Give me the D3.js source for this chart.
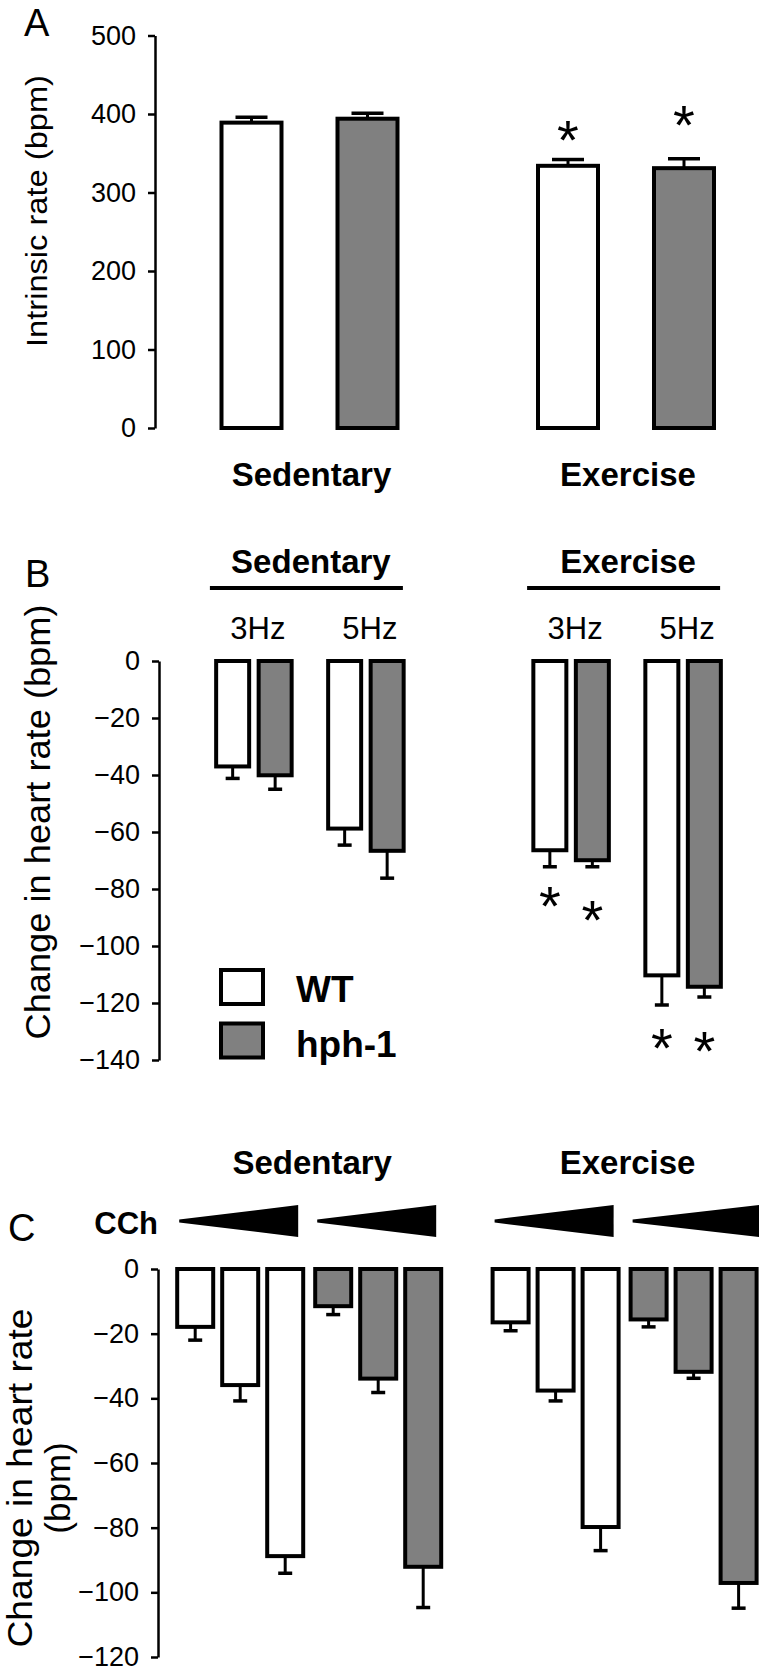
<!DOCTYPE html>
<html>
<head>
<meta charset="utf-8">
<script src="https://cdn.jsdelivr.net/npm/d3@7"></script>
<style>
  html, body { margin: 0; padding: 0; background: #fff; }
  svg { display: block; }
  text { font-family: "Liberation Sans", Arial, sans-serif; fill: #000; }
</style>
</head>
<body>
<svg id="fig" width="759" height="1675"></svg>
<script>
// ---------------- DATA ----------------
const groups = ["Sedentary", "Exercise"];
const series = ["WT", "hph-1"];

// Panel A: intrinsic rate (bpm)
const aTicks = [0, 100, 200, 300, 400, 500];
const aWT = [389, 334];
const aHph = [394, 331];
const aWTErr = [7, 8];
const aHphErr = [7, 12];
const aStarWT = [null, 381];
const aStarHph = [null, 400];

// Panel B: change in heart rate with stimulation (order: Sed3, Sed5, Ex3, Ex5)
const freqs = ["3Hz", "5Hz"];
const bTicks = [0, -20, -40, -60, -80, -100, -120, -140];
const bWT = [-37.0, -58.8, -66.4, -110.3];
const bHph = [-40.1, -66.6, -69.9, -114.3];
const bWTErr = [4.2, 5.8, 5.8, 10.4];
const bHphErr = [4.9, 9.6, 2.3, 3.6];
const bStarWT = [null, null, -82, -132];
const bStarHph = [null, null, -87, -133];

// Panel C: change in heart rate with CCh (order: Sed low, mid, high, Ex low, mid, high)
const doses = ["low", "mid", "high"];
const cTicks = [0, -20, -40, -60, -80, -100, -120];
const cWT = [-17.9, -35.9, -88.8, -16.5, -37.6, -79.8];
const cHph = [-11.5, -33.9, -92.1, -15.6, -31.8, -97.1];
const cWTErr = [4.1, 4.9, 5.3, 2.6, 3.2, 7.3];
const cHphErr = [2.6, 4.3, 12.6, 2.3, 2.0, 7.8];

// ---------------- STYLE ----------------
const FILL = { "WT": "#ffffff", "hph-1": "#808080" };
const BAR_SW = 4;
const svg = d3.select("#fig");
svg.append("rect").attr("width", 759).attr("height", 1675).attr("fill", "#fff");

function bandAround(domain, step, width) {
  const n = domain.length;
  const pi = 1 - width / step;
  const L = step * (n - pi);
  return d3.scaleBand().domain(domain).range([-L / 2, L / 2]).paddingInner(pi).paddingOuter(0);
}

function yAxis(g, y, ticks, x) {
  const ax = d3.axisLeft(y).tickValues(ticks).tickSize(7).tickSizeOuter(0).tickPadding(12)
    .tickFormat(d3.format("d"));
  const a = g.append("g").attr("transform", `translate(${x},0)`).call(ax);
  a.select(".domain").attr("stroke", "#000").attr("stroke-width", 2.5);
  a.selectAll(".tick line").attr("stroke", "#000").attr("stroke-width", 2.5);
  a.selectAll(".tick text").attr("font-size", 27).attr("font-family", '"Liberation Sans", Arial, sans-serif').attr("fill", "#000");
  return a;
}

function drawBar(g, xc, w, y, v, err, fill, capW) {
  const y0 = y(0), yv = y(v);
  const top = Math.min(y0, yv), h = Math.abs(yv - y0);
  const sign = v >= 0 ? 1 : -1;
  const ye = y(v + sign * err);
  g.append("line").attr("x1", xc).attr("x2", xc).attr("y1", yv).attr("y2", ye)
    .attr("stroke", "#000").attr("stroke-width", 3);
  g.append("line").attr("x1", xc - capW / 2).attr("x2", xc + capW / 2).attr("y1", ye).attr("y2", ye)
    .attr("stroke", "#000").attr("stroke-width", 3.5);
  g.append("rect").attr("x", xc - w / 2).attr("y", top).attr("width", w).attr("height", h)
    .attr("fill", fill).attr("stroke", "#000").attr("stroke-width", BAR_SW);
}

function star(g, xc, yc) {
  g.append("text").attr("x", xc).attr("y", yc + 30).attr("text-anchor", "middle")
    .attr("font-size", 56).text("*");
}

function yTitle(g, lines, cx, cy, fs, lens) {
  lines.forEach((t, i) => {
    const tx = g.append("text")
      .attr("transform", `translate(${cx[i]},${cy[i]}) rotate(-90)`)
      .attr("text-anchor", "middle").attr("font-size", fs).text(t);
    if (lens[i]) tx.attr("textLength", lens[i]).attr("lengthAdjust", "spacingAndGlyphs");
  });
}

// ---------------- PANEL A ----------------
{
  const g = svg.append("g");
  const y = d3.scaleLinear().domain([0, 500]).range([428, 35.5]);
  const xg = d3.scalePoint().domain(groups).range([309.5, 626]);
  const xs = bandAround(series, 116, 64 - BAR_SW);
  yAxis(g, y, aTicks, 155);
  const vals = { "WT": aWT, "hph-1": aHph };
  const errs = { "WT": aWTErr, "hph-1": aHphErr };
  const stars = { "WT": aStarWT, "hph-1": aStarHph };
  groups.forEach((gr, i) => {
    series.forEach(s => {
      const xc = xg(gr) + xs(s) + xs.bandwidth() / 2;
      drawBar(g, xc, xs.bandwidth(), y, vals[s][i], errs[s][i], FILL[s], 32);
      if (stars[s][i] != null) star(g, xc, y(stars[s][i]));
    });
    g.append("text").attr("x", xg(gr) + 2).attr("y", 486).attr("text-anchor", "middle")
      .attr("font-size", 33).attr("font-weight", "bold").text(gr);
  });
  g.append("text").attr("x", 24).attr("y", 36).attr("font-size", 38).text("A");
  yTitle(g, ["Intrinsic rate (bpm)"], [47], [211], 30, [272]);
}

// ---------------- PANEL B ----------------
{
  const g = svg.append("g");
  const y = d3.scaleLinear().domain([0, -140]).range([661, 1060]);
  const xg = d3.scalePoint().domain(groups).range([309.9, 627.1]);
  const xf = bandAround(freqs, 112, 0);
  const xs = bandAround(series, 42.5, 37 - BAR_SW);
  yAxis(g, y, bTicks, 159);
  const vals = { "WT": bWT, "hph-1": bHph };
  const errs = { "WT": bWTErr, "hph-1": bHphErr };
  const stars = { "WT": bStarWT, "hph-1": bStarHph };
  groups.forEach((gr, gi) => {
    freqs.forEach((f, fi) => {
      const k = gi * freqs.length + fi;
      const fc = xg(gr) + xf(f);
      series.forEach(s => {
        const xc = fc + xs(s) + xs.bandwidth() / 2;
        drawBar(g, xc, xs.bandwidth(), y, vals[s][k], errs[s][k], FILL[s], 14);
        if (stars[s][k] != null) star(g, xc, y(stars[s][k]));
      });
      g.append("text").attr("x", fc + 4).attr("y", 639).attr("text-anchor", "middle")
        .attr("font-size", 31).text(f);
    });
    g.append("text").attr("x", xg(gr) + 1).attr("y", 573).attr("text-anchor", "middle")
      .attr("font-size", 33).attr("font-weight", "bold").text(gr);
    g.append("line").attr("x1", xg(gr) - 3.5 - 96.5).attr("x2", xg(gr) - 3.5 + 96.5)
      .attr("y1", 588).attr("y2", 588).attr("stroke", "#000").attr("stroke-width", 4);
  });
  // legend
  const lg = g.append("g");
  series.forEach((s, i) => {
    lg.append("rect").attr("x", 221).attr("y", 970 + i * 53.5).attr("width", 42).attr("height", 34)
      .attr("fill", FILL[s]).attr("stroke", "#000").attr("stroke-width", BAR_SW);
    lg.append("text").attr("x", 296).attr("y", 1002 + i * 55).attr("font-size", 37)
      .attr("font-weight", "bold").text(s);
  });
  g.append("text").attr("x", 25).attr("y", 587).attr("font-size", 38).text("B");
  yTitle(g, ["Change in heart rate (bpm)"], [50], [822], 35, [435]);
}

// ---------------- PANEL C ----------------
{
  const g = svg.append("g");
  const y = d3.scaleLinear().domain([0, -120]).range([1269, 1657]);
  const xg = d3.scalePoint().domain(groups).range([309.2, 624.6]);
  const xs = bandAround(series, 138, 0);
  const xd = bandAround(doses, 45, 40 - BAR_SW);
  yAxis(g, y, cTicks, 158);
  const vals = { "WT": cWT, "hph-1": cHph };
  const errs = { "WT": cWTErr, "hph-1": cHphErr };
  groups.forEach((gr, gi) => {
    series.forEach((s, si) => {
      const sc = xg(gr) + xs(s);
      doses.forEach((d, di) => {
        const k = gi * doses.length + di;
        const xc = sc + xd(d) + xd.bandwidth() / 2;
        drawBar(g, xc, xd.bandwidth(), y, vals[s][k], errs[s][k], FILL[s], 14);
      });
      // CCh wedge (increasing concentration)
      const last = gi === groups.length - 1 && si === series.length - 1;
      const x0 = sc - 61, x1 = last ? 760 : sc + 58;
      g.append("path")
        .attr("d", `M${x0},1219.5 L${x1},1205 L${x1},1237 L${x0},1222.5 Z`)
        .attr("fill", "#000");
    });
    g.append("text").attr("x", xg(gr) + 3).attr("y", 1174).attr("text-anchor", "middle")
      .attr("font-size", 33).attr("font-weight", "bold").text(gr);
  });
  g.append("text").attr("x", 158).attr("y", 1234).attr("text-anchor", "end")
    .attr("font-size", 31).attr("font-weight", "bold").text("CCh");
  g.append("text").attr("x", 8).attr("y", 1241).attr("font-size", 38).text("C");
  yTitle(g, ["Change in heart rate", "(bpm)"], [32, 70], [1478, 1488], 35, [339, null]);
}
</script>
</body>
</html>
